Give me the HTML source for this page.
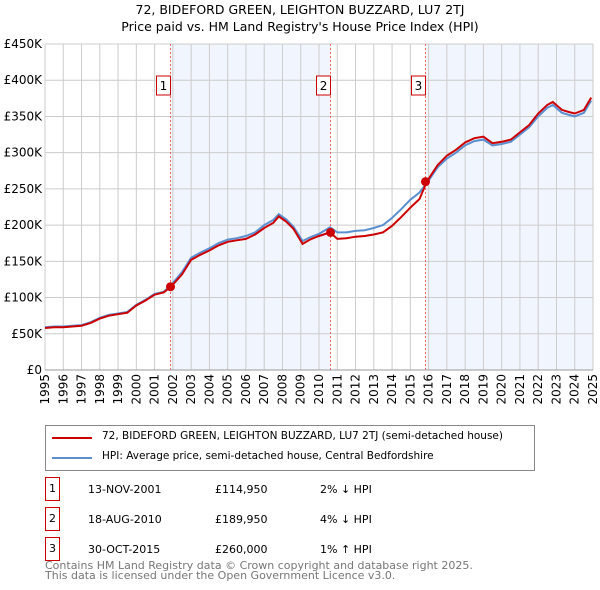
<!DOCTYPE html>
<html><head><meta charset="utf-8">
<style>
body{margin:0;background:#fff;font-family:"Liberation Sans","DejaVu Sans",sans-serif;}
#wrap{position:relative;width:600px;height:590px;overflow:hidden;}
.t{position:absolute;font-size:12px;color:#000;white-space:nowrap;}
</style></head><body>
<div id="wrap">
<svg id="chart" width="600" height="420" style="position:absolute;left:0;top:0">
<text x="300" y="14" text-anchor="middle" font-size="12.5" font-family="DejaVu Sans, sans-serif">72, BIDEFORD GREEN, LEIGHTON BUZZARD, LU7 2TJ</text>
<text x="300" y="31" text-anchor="middle" font-size="12.5" font-family="DejaVu Sans, sans-serif">Price paid vs. HM Land Registry's House Price Index (HPI)</text>
<g id="g"></g>
</svg>
<div style="position:absolute;left:45px;top:425px;width:488px;height:44px;border:1px solid #888;">
 <div style="position:absolute;left:6px;top:11px;width:40px;height:2px;background:#cc0000"></div>
 <div class="t" style="left:56px;top:4px;font-size:10.5px;font-family:'DejaVu Sans',sans-serif">72, BIDEFORD GREEN, LEIGHTON BUZZARD, LU7 2TJ (semi-detached house)</div>
 <div style="position:absolute;left:6px;top:31px;width:40px;height:2px;background:#5b8fd0"></div>
 <div class="t" style="left:56px;top:24px;font-size:10.5px;font-family:'DejaVu Sans',sans-serif">HPI: Average price, semi-detached house, Central Bedfordshire</div>
</div>
<div id="rows"></div>
<div class="t" style="left:45px;top:561px;font-size:11px;color:#777;line-height:10px;font-family:'DejaVu Sans',sans-serif">Contains HM Land Registry data © Crown copyright and database right 2025.<br>This data is licensed under the Open Government Licence v3.0.</div>
</div>
<script>
const years=[1995,1995.5,1996,1996.5,1997,1997.5,1998,1998.5,1999,1999.5,2000,2000.5,2001,2001.5,2001.9,2002.5,2003,2003.5,2004,2004.5,2005,2005.5,2006,2006.5,2007,2007.5,2007.8,2008.2,2008.6,2009.1,2009.5,2010,2010.6,2011,2011.5,2012,2012.5,2013,2013.5,2014,2014.5,2015,2015.5,2015.9,2016.5,2017,2017.5,2018,2018.5,2019,2019.5,2020,2020.5,2021,2021.5,2022,2022.5,2022.8,2023.3,2023.7,2024,2024.5,2024.9];
const hpi=[59,60,60,61,62,66,72,76,78,80,90,97,105,108,117,135,155,162,168,175,180,182,185,190,200,207,215,208,198,178,183,188,197,190,190,192,193,196,200,210,222,235,245,258,280,292,300,310,316,318,310,312,315,325,335,350,362,366,355,352,350,355,372];
const red=[58,59,59,60,61,65,71,75,77,79,89,96,104,107,114.95,132,152,159,165,172,177,179,181,187,196,203,212,205,195,174,180,185,189.95,181,182,184,185,187,190,199,211,224,236,260,283,296,304,314,320,322,313,315,318,328,338,354,366,370,359,356,354,359,376];
const saleYears=[2001.87,2010.63,2015.83];
const salePrices=[114950,189950,260000];
const saleLabels=["1","2","3"];
const saleDates=["13-NOV-2001","18-AUG-2010","30-OCT-2015"];
const salePriceText=["£114,950","£189,950","£260,000"];
const saleHpiText=["2% ↓ HPI","4% ↓ HPI","1% ↑ HPI"];
const yTicks=[0,50,100,150,200,250,300,350,400,450];
const xTicks=[1995,1996,1997,1998,1999,2000,2001,2002,2003,2004,2005,2006,2007,2008,2009,2010,2011,2012,2013,2014,2015,2016,2017,2018,2019,2020,2021,2022,2023,2024,2025];

const X0=45,X1=593,Y0=370,Y1=44;
const xs=y=>X0+(y-1995)/30*(X1-X0);
const ys=v=>Y0-v/450*(Y0-Y1);
const NS="http://www.w3.org/2000/svg";
const g=document.getElementById('g');
function mk(t,a,p){const e=document.createElementNS(NS,t);for(const k in a)e.setAttribute(k,a[k]);(p||g).appendChild(e);return e;}
let s1=mk('rect',{x:xs(saleYears[0]),y:Y1,width:xs(saleYears[1])-xs(saleYears[0]),height:Y0-Y1,fill:'#eef3fd',opacity:0.8});


let s2=mk('rect',{x:xs(saleYears[2]),y:Y1,width:X1-xs(saleYears[2]),height:Y0-Y1,fill:'#eef3fd',opacity:0.8});


yTicks.forEach(v=>{
 let l=mk('line',{x1:X0,x2:X1,y1:ys(v),y2:ys(v),stroke:'#ccc'});
 
 
 let t=mk('text',{x:X0-3,y:ys(v)+4,'text-anchor':'end','font-size':12,'font-family':'DejaVu Sans, sans-serif'});
 t.textContent='£'+(v?v+'K':'0');
 
 
});
xTicks.forEach(y=>{
 let l=mk('line',{x1:xs(y),x2:xs(y),y1:Y1,y2:Y0,stroke:'#ccc'});
 
 
 let t=mk('text',{transform:`translate(${xs(y)+4},${Y0+4}) rotate(-90)`,'text-anchor':'end','font-size':12,'font-family':'DejaVu Sans, sans-serif'});
 t.textContent=y;
 
 
});
saleYears.forEach((y,i)=>{
 let l=mk('line',{x1:xs(y),x2:xs(y),y1:Y1,y2:Y0,stroke:'#e66','stroke-dasharray':'2,2'});
 
 
 let r=mk('rect',{x:xs(y)-14,y:76,width:14,height:19,fill:'#fff',stroke:'#c00'});
 
 
 let t=mk('text',{x:xs(y)-7,y:90,'text-anchor':'middle','font-size':12,'font-family':'DejaVu Sans, sans-serif'});
 t.textContent=saleLabels[i];
 
 
});
const pts=a=>a.map((v,i)=>xs(years[i]).toFixed(1)+','+ys(v).toFixed(1)).join(' ');
let hl=mk('polyline',{points:pts(hpi),fill:'none',stroke:'#5b8fd0','stroke-width':2});


let rl=mk('polyline',{points:pts(red),fill:'none',stroke:'#cc0000','stroke-width':2});


saleYears.forEach((y,i)=>{
 let c=mk('circle',{cx:xs(y),cy:ys(salePrices[i]/1000),r:4.5,fill:'#cc0000'});
 
 
});
let ax=mk('line',{x1:X0,x2:X1,y1:Y0,y2:Y0,stroke:'#999'});


const rows=document.getElementById('rows');
saleLabels.forEach((lab,i)=>{
 const top=483+i*30;
 const d=document.createElement('div');
 
 
 d.innerHTML=`<div style="position:absolute;left:45px;top:${top-6}px;width:13px;height:22px;border:1px solid #c00;font-size:11px;text-align:center;line-height:22px;font-family:'DejaVu Sans',sans-serif">${lab}</div>
 <div class="t" style="left:88px;top:${top}px;font-size:11px;font-family:'DejaVu Sans',sans-serif">${saleDates[i]}</div>
 <div class="t" style="left:215px;top:${top}px;font-size:11px;font-family:'DejaVu Sans',sans-serif">${salePriceText[i]}</div>
 <div class="t" style="left:320px;top:${top}px;font-size:11px;font-family:'DejaVu Sans',sans-serif">${saleHpiText[i]}</div>`;
 rows.appendChild(d);
});
</script>
</body></html>
